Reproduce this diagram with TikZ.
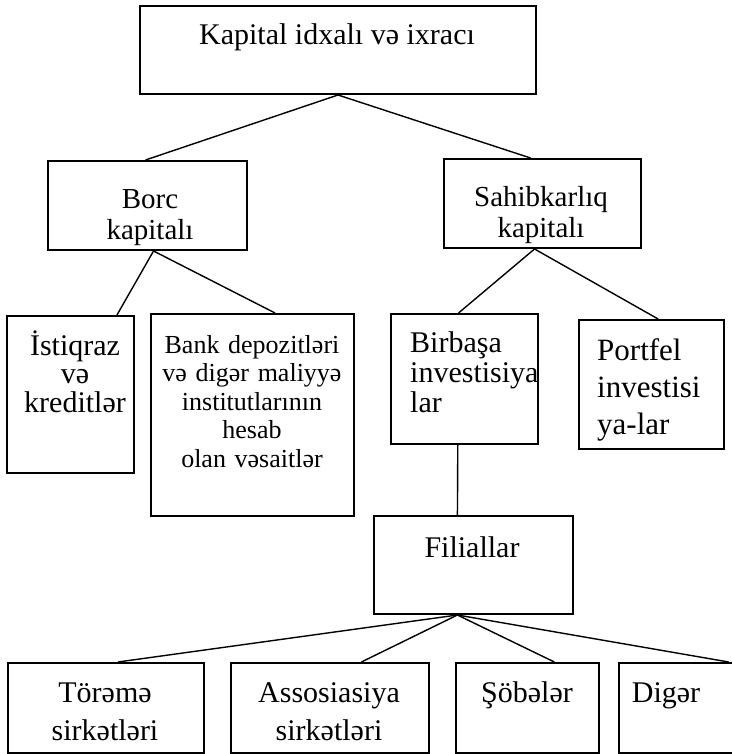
\documentclass[tikz,border=0pt]{standalone}
\usepackage{fontspec}
\setmainfont{Liberation Serif}
\usetikzlibrary{calc}
\begin{document}
\begin{tikzpicture}[x=1pt,y=-1pt,
  box/.style={draw,line width=2pt,inner sep=0pt,anchor=north west},
  conn/.style={line width=1.4pt},
  txt/.style={inner sep=0pt,anchor=base,align=center}]
\useasboundingbox[fill=white] (0,0) rectangle (731,754);
% boxes
\node[box,minimum width=396pt,minimum height=88pt] (top) at (139,5) {};
\node[box,minimum width=199pt,minimum height=89pt] (borc) at (47,160) {};
\node[box,minimum width=197pt,minimum height=89pt] (sahib) at (443,158) {};
\node[box,minimum width=127pt,minimum height=157pt] (istiqraz) at (6,315) {};
\node[box,minimum width=203pt,minimum height=202pt] (bank) at (150,313) {};
\node[box,minimum width=147pt,minimum height=130pt] (birbasa) at (390,313) {};
\node[box,minimum width=145pt,minimum height=129pt] (portfel) at (578,319) {};
\node[box,minimum width=199pt,minimum height=98pt] (filial) at (373,515) {};
\node[box,minimum width=196pt,minimum height=90pt] (torema) at (7,662) {};
\node[box,minimum width=198pt,minimum height=90pt] (assos) at (230,662) {};
\node[box,minimum width=143pt,minimum height=90pt] (sobeler) at (455,662) {};
\node[box,minimum width=127pt,minimum height=90pt] (diger) at (618,662) {};
% texts
\node[txt,font=\fontsize{30}{28}\selectfont] (ttop) at (337,45) {Kapital idxalı və ixracı};
\node[txt,text width=190pt,font=\fontsize{29}{31}\selectfont] (tborc) at (150,208) {Borc\\kapitalı};
\node[txt,text width=190pt,font=\fontsize{29}{31}\selectfont] (tsahib) at (541,206) {Sahibkarlıq\\kapitalı};
\node[txt,text width=124pt,font=\fontsize{30}{28.5}\selectfont] (tistiqraz) at (75,355) {İstiqraz\\və\\kreditlər};
\node[txt,text width=200pt,font=\fontsize{26}{28.5}\selectfont] (tbank) at (252,353) {Bank depozitləri\\və digər maliyyə\\institutlarının\\hesab\\olan vəsaitlər};
\node[inner sep=0pt,anchor=base west,align=left,text width=135pt,font=\fontsize{30}{30}\selectfont] (tbirbasa) at (410,352) {Birbaşa\\investisiya\\lar};
\node[inner sep=0pt,anchor=base west,align=left,text width=125pt,font=\fontsize{31}{37}\selectfont] (tportfel) at (597,360) {Portfel\\investisi\\ya-lar};
\node[txt,font=\fontsize{30}{28}\selectfont] (tfilial) at (472,557) {Filiallar};
\node[txt,text width=190pt,font=\fontsize{30}{38}\selectfont] (ttorema) at (105,702) {Törəmə\\sirkətləri};
\node[txt,text width=190pt,font=\fontsize{30}{38}\selectfont] (tassos) at (329,702) {Assosiasiya\\sirkətləri};
\node[txt,font=\fontsize{30}{28}\selectfont] (tsobeler) at (527,702) {Şöbələr};
\node[txt,font=\fontsize{30}{28}\selectfont] (tdiger) at (666,702) {Digər};
% connectors
\draw[conn] ($(top.south west)!.5!(top.south east)$) -- ($(borc.north west)!.49!(borc.north east)$);
\draw[conn] ($(top.south west)!.5!(top.south east)$) -- ($(sahib.north west)!.44!(sahib.north east)$);
\draw[conn] ($(borc.south west)!.53!(borc.south east)$) -- ($(istiqraz.north west)!.86!(istiqraz.north east)$);
\draw[conn] ($(borc.south west)!.53!(borc.south east)$) -- ($(bank.north west)!.61!(bank.north east)$);
\draw[conn] ($(sahib.south west)!.46!(sahib.south east)$) -- ($(birbasa.north west)!.46!(birbasa.north east)$);
\draw[conn] ($(sahib.south west)!.46!(sahib.south east)$) -- ($(portfel.north west)!.545!(portfel.north east)$);
\draw[conn] ($(birbasa.south west)!.455!(birbasa.south east)$) -- ($(filial.north west)!.42!(filial.north east)$);
\draw[conn] ($(filial.south west)!.42!(filial.south east)$) -- ($(torema.north west)!.56!(torema.north east)$);
\draw[conn] ($(filial.south west)!.42!(filial.south east)$) -- ($(assos.north west)!.657!(assos.north east)$);
\draw[conn] ($(filial.south west)!.42!(filial.south east)$) -- ($(sobeler.north west)!.685!(sobeler.north east)$);
\draw[conn] ($(filial.south west)!.42!(filial.south east)$) -- ($(diger.north west)!.858!(diger.north east)$);
\end{tikzpicture}
\end{document}
